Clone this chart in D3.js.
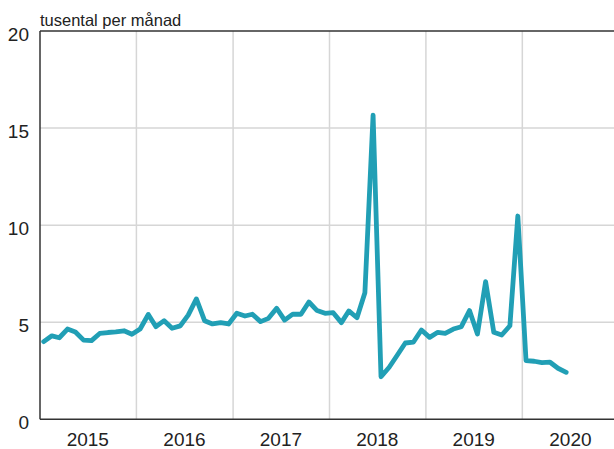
<!DOCTYPE html>
<html>
<head>
<meta charset="utf-8">
<script src="https://cdn.jsdelivr.net/npm/d3@7"></script>
<style>
  body { margin: 0; background: #fff; }
  svg { display: block; font-family: "Liberation Sans", Arial, sans-serif; }
</style>
</head>
<body>
<div id="chart"></div>
<script>
// Monthly values, Jan 2015 - Jun 2020 (thousands per month)
const startYear = 2015;
const values = [
  4.0, 4.3, 4.2, 4.65, 4.5, 4.08, 4.05, 4.42, 4.47, 4.5, 4.56, 4.38,   // 2015
  4.65, 5.4, 4.77, 5.08, 4.69, 4.81, 5.37, 6.2, 5.08, 4.91, 4.98, 4.91, // 2016
  5.46, 5.32, 5.41, 5.03, 5.2, 5.72, 5.11, 5.42, 5.41, 6.04, 5.6, 5.46, // 2017
  5.49, 4.98, 5.58, 5.23, 6.52, 15.67, 2.19, 2.68, 3.31, 3.93, 3.98, 4.6, // 2018
  4.22, 4.48, 4.43, 4.65, 4.77, 5.6, 4.39, 7.09, 4.48, 4.34, 4.82, 10.47, // 2019
  3.02, 2.99, 2.92, 2.94, 2.63, 2.42                                    // 2020
];
const yearLabels = [2015, 2016, 2017, 2018, 2019, 2020];
const yTicks = [0, 5, 10, 15, 20];
const title = "tusental per månad";

const width = 614, height = 449;
const marginLeft = 40, marginTop = 31, bottomY = 419.3;

const data = values.map((v, i) => ({
  date: new Date(startYear, i, 15),
  value: v
}));

const svg = d3.select("#chart").append("svg")
  .attr("width", width).attr("height", height);

const x = d3.scaleTime()
  .domain([new Date(2015, 0, 1), new Date(2021, 0, 1)])
  .range([marginLeft, 619]);
const y = d3.scaleLinear().domain([0, 20]).range([bottomY, marginTop]);

// grid lines
const grid = svg.append("g").attr("stroke", "#d6d6d6").attr("stroke-width", 1.5);
grid.selectAll(".hg")
  .data(yTicks.filter(d => d > 0 && d < 20))
  .enter().append("line")
  .attr("x1", marginLeft).attr("x2", width)
  .attr("y1", d => y(d)).attr("y2", d => y(d));
grid.selectAll(".vg")
  .data(yearLabels.slice(1))
  .enter().append("line")
  .attr("x1", d => x(new Date(d, 0, 1))).attr("x2", d => x(new Date(d, 0, 1)))
  .attr("y1", marginTop).attr("y2", bottomY);

// frame
const frame = svg.append("g").attr("stroke", "#333").attr("stroke-width", 1.5);
frame.append("line").attr("x1", marginLeft).attr("x2", width)
  .attr("y1", marginTop).attr("y2", marginTop);
frame.append("line").attr("x1", marginLeft).attr("x2", width)
  .attr("y1", bottomY).attr("y2", bottomY);
frame.append("line").attr("x1", marginLeft).attr("x2", marginLeft)
  .attr("y1", marginTop).attr("y2", bottomY);

// y labels
svg.append("g").selectAll("text")
  .data(yTicks)
  .enter().append("text")
  .attr("x", 29).attr("y", d => y(d) + 10)
  .attr("text-anchor", "end")
  .attr("font-size", 19)
  .attr("fill", "#222")
  .text(d => d);

// x labels, centred mid-year
svg.append("g").selectAll("text")
  .data(yearLabels)
  .enter().append("text")
  .attr("x", d => x(new Date(d, 6, 1)))
  .attr("y", 445.5)
  .attr("text-anchor", "middle")
  .attr("font-size", 19)
  .attr("fill", "#222")
  .text(d => d);

// title
svg.append("text")
  .attr("x", 40).attr("y", 25.5)
  .attr("font-size", 16.5)
  .attr("fill", "#222")
  .text(title);

// line
svg.append("path")
  .datum(data)
  .attr("fill", "none")
  .attr("stroke", "#219fb5")
  .attr("stroke-width", 4.8)
  .attr("stroke-linejoin", "round")
  .attr("stroke-linecap", "round")
  .attr("d", d3.line().x(d => x(d.date)).y(d => y(d.value)));
</script>
</body>
</html>
